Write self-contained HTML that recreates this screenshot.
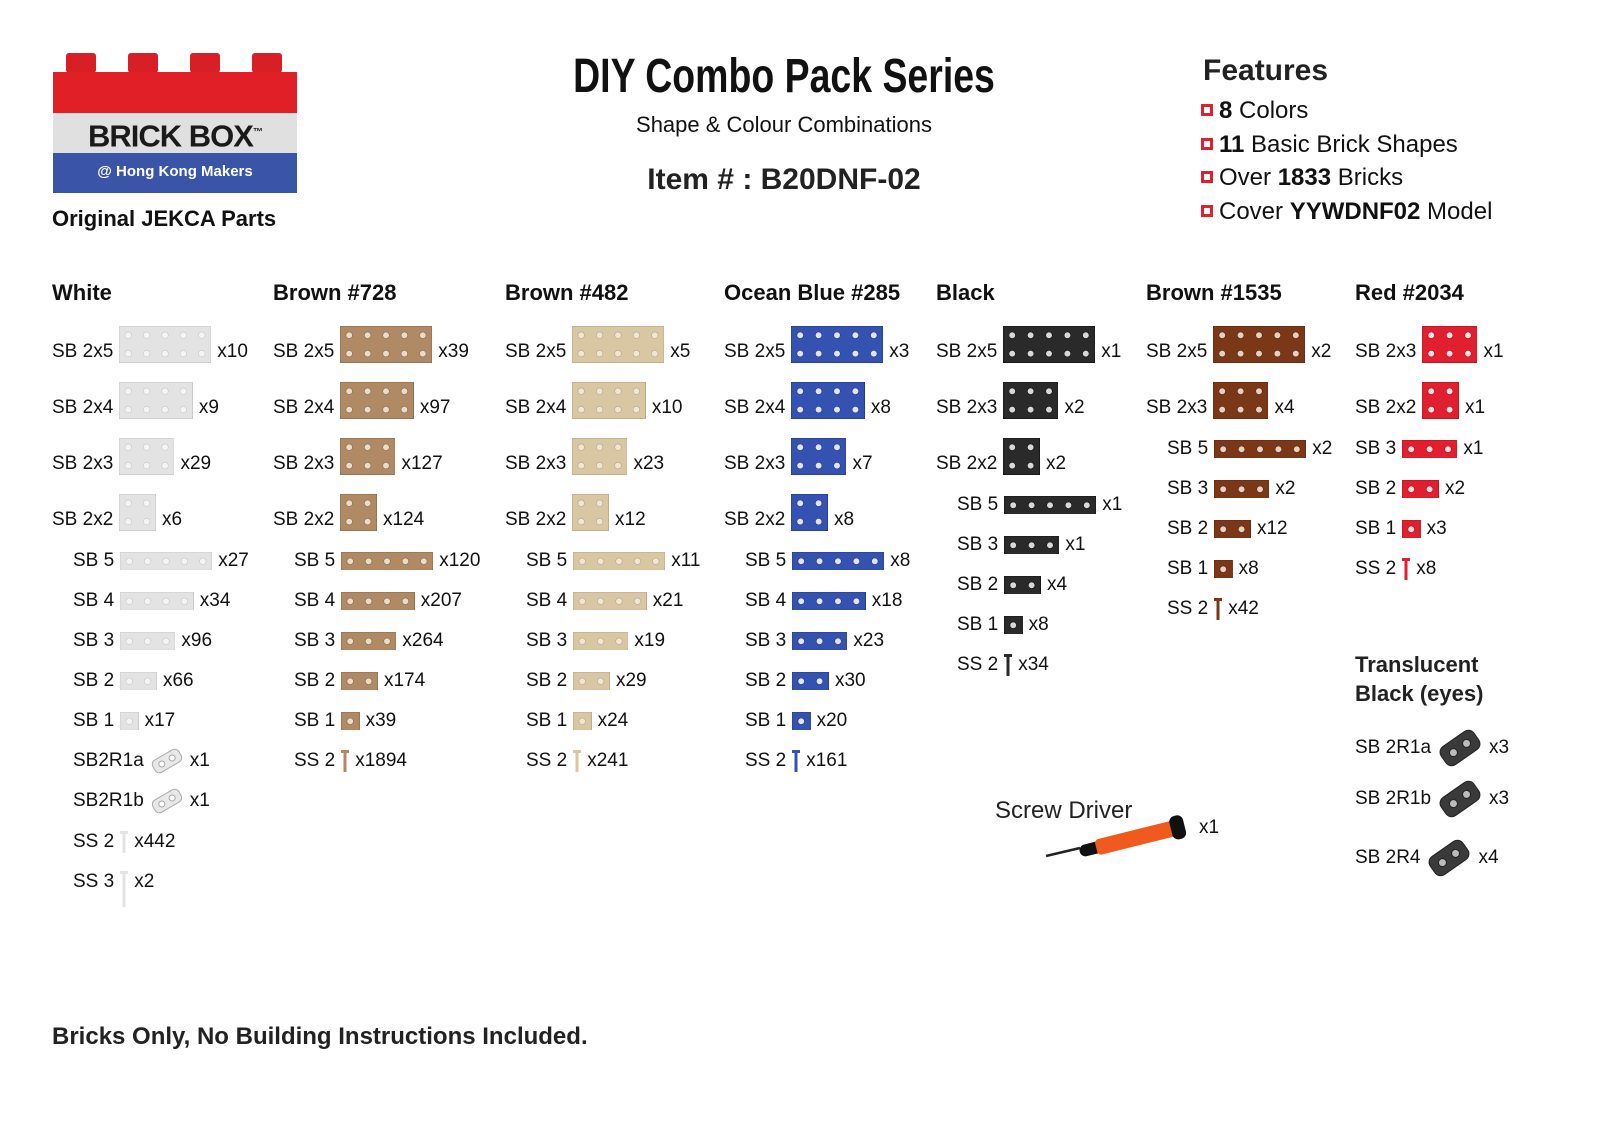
<!DOCTYPE html>
<html><head><meta charset="utf-8"><style>
body{margin:0;width:1600px;height:1132px;background:#fff;position:relative;overflow:hidden;font-family:"Liberation Sans",Arial,sans-serif;color:#111}
.a{position:absolute;white-space:nowrap}
.t{font-size:19px;line-height:20px}
.h{font-size:22px;font-weight:bold;line-height:24px}
.f{font-size:24px;line-height:28px}
.sq{display:inline-block;width:12px;height:12px;background:#e02030;border:0;vertical-align:middle;margin-right:6px;position:relative;top:-2px;box-shadow:inset 0 0 0 3px #e02030, inset 0 0 0 7px #fff}
</style></head><body>
<!-- logo -->
<div class="a" style="left:66px;top:53px;width:30px;height:20px;background:#d81f26;border-radius:3px"></div>
<div class="a" style="left:128px;top:53px;width:30px;height:20px;background:#d81f26;border-radius:3px"></div>
<div class="a" style="left:190px;top:53px;width:30px;height:20px;background:#d81f26;border-radius:3px"></div>
<div class="a" style="left:252px;top:53px;width:30px;height:20px;background:#d81f26;border-radius:3px"></div>
<div class="a" style="left:53px;top:72px;width:244px;height:41px;background:#e01f26"></div>
<div class="a" style="left:53px;top:113px;width:244px;height:40px;background:#e0e0e0"></div>
<div class="a" style="left:53px;top:153px;width:244px;height:40px;background:#3a55a8"></div>
<div class="a" style="left:53px;top:113px;width:244px;text-align:center;font-weight:bold;font-size:31px;line-height:40px;color:#1a1a1a;letter-spacing:-1px">BRICK BOX<sup style="font-size:10px">™</sup></div>
<div class="a" style="left:53px;top:153px;width:244px;text-align:center;font-weight:bold;font-size:15px;line-height:38px;color:#fff">@ Hong Kong Makers</div>
<div class="a" style="left:52px;top:205px;font-weight:bold;font-size:22px;line-height:28px">Original JEKCA Parts</div>
<!-- title -->
<div class="a" style="left:484px;top:52px;width:600px;text-align:center;font-weight:bold;font-size:48px;line-height:50px;transform:scaleX(.78)">DIY Combo Pack Series</div>
<div class="a" style="left:584px;top:112px;width:400px;text-align:center;font-size:22px;line-height:26px">Shape &amp; Colour Combinations</div>
<div class="a" style="left:584px;top:162px;width:400px;text-align:center;font-size:30px;font-weight:bold;line-height:36px;color:#222">Item # : B20DNF-02</div>
<!-- features -->
<div class="a" style="left:1203px;top:54px;font-size:30px;font-weight:bold;line-height:34px;color:#222">Features</div>
<div class="a f" style="left:1201px;top:97px"><span class="sq"></span><b>8</b> Colors</div>
<div class="a f" style="left:1201px;top:131px"><span class="sq"></span><b>11</b> Basic Brick Shapes</div>
<div class="a f" style="left:1201px;top:164px"><span class="sq"></span>Over <b>1833</b> Bricks</div>
<div class="a f" style="left:1201px;top:198px"><span class="sq"></span>Cover <b>YYWDNF02</b> Model</div>
<!-- footer -->
<div class="a" style="left:52px;top:1023px;font-size:24px;font-weight:bold;line-height:28px;color:#222">Bricks Only, No Building Instructions Included.</div>
<!-- screwdriver -->
<div class="a" style="left:995px;top:797px;font-size:24px;line-height:28px;color:#222">Screw Driver</div>
<svg class="a" style="left:1040px;top:810px" width="160" height="60">
<line x1="6" y1="46" x2="40" y2="38" stroke="#222" stroke-width="2.5"/>
<g transform="rotate(-14 95 28)"><rect x="38" y="22" width="24" height="12" rx="6" fill="#111"/><rect x="55" y="20" width="85" height="16" rx="4" fill="#f05a1e"/><rect x="132" y="16" width="14" height="24" rx="6" fill="#111"/></g>
</svg>
<div class="a t" style="left:1199px;top:818px">x1</div>
<div class="a" style="left:1355px;top:650px;font-size:22px;font-weight:bold;line-height:29px;color:#222">Translucent<br>Black (eyes)</div>
<div id="c"></div>
<script>
var C={w:['#e3e3e3','#f4f4f4','#c8c8c8'],b7:['#b08a64','#e8dccc','#8a6a48'],b4:['#d9c6a3','#efe6d4','#b8a584'],bl:['#3552b0','#dfe4f5','#24398a'],k:['#2a2a2a','#d8d8d8','#111'],b1:['#7a3818','#e8d0c0','#5a2810'],r:['#e0202e','#fde0e0','#b01020']};
var out='';
function txt(x,y,s){out+='<div class="a t" style="left:'+x+'px;top:'+(y-10)+'px">'+s+'</div>';}
function w(s){var c=document.createElement('canvas').getContext('2d');c.font='19px "Liberation Sans", Arial';return c.measureText(s).width;}
function brick(x,y,cols,rows,col){var p=18.4,W=cols*p,H=rows*p;var k=C[col];var top=rows==2?y-26:y-9;
var s='<svg class="a" style="left:'+x+'px;top:'+top+'px" width="'+W+'" height="'+H+'"><rect x="0" y="0" width="'+W+'" height="'+H+'" fill="'+k[0]+'" stroke="'+k[2]+'" stroke-width="1"/>';
for(var i=0;i<cols;i++)for(var j=0;j<rows;j++)s+='<circle cx="'+(p*i+p/2)+'" cy="'+(p*j+p/2)+'" r="3.3" fill="'+k[1]+'" stroke="'+k[2]+'" stroke-width=".6"/>';
out+=s+'</svg>';return W;}
function screw(x,y,col,len){var k=C[col];out+='<svg class="a" style="left:'+x+'px;top:'+(y-11)+'px" width="8" height="'+len+'"><rect x="0" y="0" width="8" height="3" fill="'+k[0]+'"/><rect x="2.5" y="0" width="3" height="'+len+'" fill="'+k[0]+'"/></svg>';return 8;}
function item(x,y,lab,shape,cnt,col){txt(x,y,lab);var bx=x+w(lab)+6;var bw;
if(shape=='ss2')bw=screw(bx,y,col,22);else if(shape=='ss3')bw=screw(bx,y,col,36);
else if(shape=='r'){out+='<svg class="a" style="left:'+bx+'px;top:'+(y-14)+'px" width="34" height="28"><g transform="rotate(-30 17 14)"><rect x="2" y="7" width="30" height="14" rx="5" fill="#e8e8e8" stroke="#aaa"/><circle cx="11" cy="14" r="3" fill="#fff" stroke="#aaa"/><circle cx="23" cy="14" r="3" fill="#fff" stroke="#aaa"/></g></svg>';bw=34;}
else if(shape=='e'){out+='<svg class="a" style="left:'+bx+'px;top:'+(y-22)+'px" width="46" height="44"><g transform="rotate(-35 23 22)"><rect x="3" y="11" width="40" height="22" rx="7" fill="#3a3a3a" stroke="#222"/><circle cx="15" cy="22" r="4" fill="#bbb" stroke="#222"/><circle cx="31" cy="22" r="4" fill="#bbb" stroke="#222"/></g></svg>';bw=46;}
else bw=brick(bx,y,shape[0],shape[1],col);
txt(bx+bw+6,y,cnt);}
var heads=[[52,'White'],[273,'Brown #728'],[505,'Brown #482'],[724,'Ocean Blue #285'],[936,'Black'],[1146,'Brown #1535'],[1355,'Red #2034']];
heads.forEach(function(h){out+='<div class="a h" style="left:'+h[0]+'px;top:281px">'+h[1]+'</div>';});
var R2=[352,408,464,520],R1=[561,601,641,681,721,761,801,842,882];
function std(x,col,c){var sh=[[5,2],[4,2],[3,2],[2,2]];for(var i=0;i<4;i++)item(x,R2[i],'SB 2x'+(5-i),sh[i],c[i],col);
var s1=[[5,1],[4,1],[3,1],[2,1],[1,1]];for(i=0;i<5;i++)item(x+21,R1[i],'SB '+(5-i),s1[i],c[4+i],col);}
std(52,'w',['x10','x9','x29','x6','x27','x34','x96','x66','x17']);
item(73,761,'SB2R1a','r','x1','w');item(73,801,'SB2R1b','r','x1','w');item(73,842,'SS 2','ss2','x442','w');item(73,882,'SS 3','ss3','x2','w');
std(273,'b7',['x39','x97','x127','x124','x120','x207','x264','x174','x39']);item(294,761,'SS 2','ss2','x1894','b7');
std(505,'b4',['x5','x10','x23','x12','x11','x21','x19','x29','x24']);item(526,761,'SS 2','ss2','x241','b4');
std(724,'bl',['x3','x8','x7','x8','x8','x18','x23','x30','x20']);item(745,761,'SS 2','ss2','x161','bl');
item(936,352,'SB 2x5',[5,2],'x1','k');item(936,408,'SB 2x3',[3,2],'x2','k');item(936,464,'SB 2x2',[2,2],'x2','k');
item(957,505,'SB 5',[5,1],'x1','k');item(957,545,'SB 3',[3,1],'x1','k');item(957,585,'SB 2',[2,1],'x4','k');item(957,625,'SB 1',[1,1],'x8','k');item(957,665,'SS 2','ss2','x34','k');
item(1146,352,'SB 2x5',[5,2],'x2','b1');item(1146,408,'SB 2x3',[3,2],'x4','b1');
item(1167,449,'SB 5',[5,1],'x2','b1');item(1167,489,'SB 3',[3,1],'x2','b1');item(1167,529,'SB 2',[2,1],'x12','b1');item(1167,569,'SB 1',[1,1],'x8','b1');item(1167,609,'SS 2','ss2','x42','b1');
item(1355,352,'SB 2x3',[3,2],'x1','r');item(1355,408,'SB 2x2',[2,2],'x1','r');
item(1355,449,'SB 3',[3,1],'x1','r');item(1355,489,'SB 2',[2,1],'x2','r');item(1355,529,'SB 1',[1,1],'x3','r');item(1355,569,'SS 2','ss2','x8','r');
item(1355,748,'SB 2R1a','e','x3','k');item(1355,799,'SB 2R1b','e','x3','k');item(1355,858,'SB 2R4','e','x4','k');
document.getElementById('c').innerHTML=out;
</script>
</body></html>
